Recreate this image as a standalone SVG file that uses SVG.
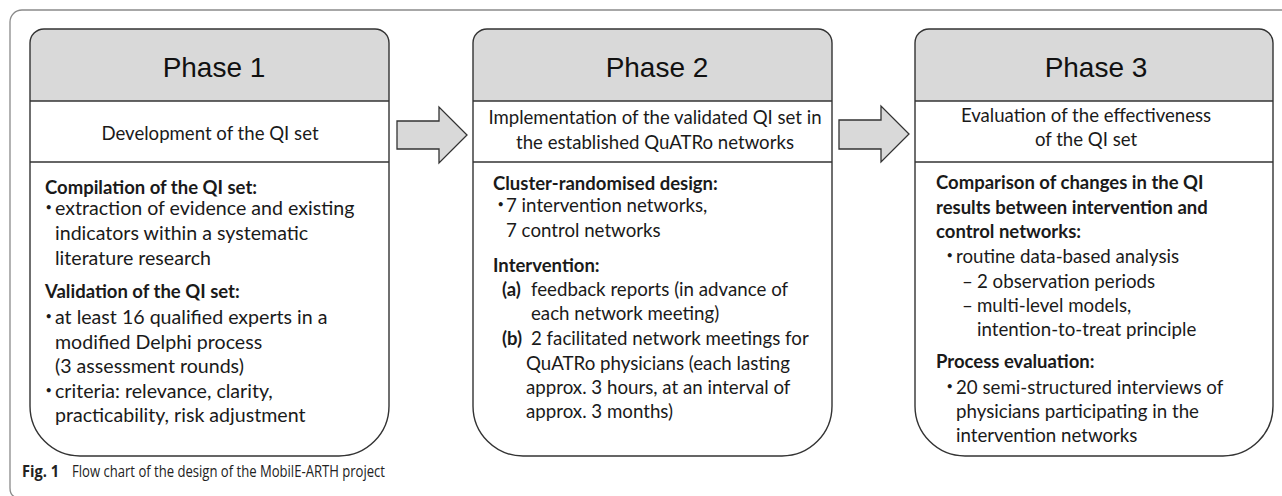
<svg xmlns="http://www.w3.org/2000/svg" width="1282" height="496" viewBox="0 0 1282 496">
<style>
.frame{fill:none;stroke:#8a8a8a;stroke-width:1.3}
.hdr{fill:#d9d9d9}
.box{fill:none;stroke:#333;stroke-width:1.4}
.sep{stroke:#333;stroke-width:1.3}
.arrow{fill:#d9d9d9;stroke:#333;stroke-width:1.3;stroke-linejoin:miter}
.ph{font-family:"Liberation Sans",Arial,sans-serif;font-size:28px;fill:#111;text-anchor:middle}
.t{font-family:Lato,"Open Sans",sans-serif;font-size:18.7px;fill:#1a1a1a}
.t1{font-size:19.6px}
.s{font-size:18.6px}
.c{text-anchor:middle}
.b{font-weight:bold;font-size:18.5px}
.bul{font-family:Lato,sans-serif;font-size:11px;fill:#1a1a1a}
.cap{font-family:"Open Sans","Noto Sans",sans-serif;font-size:16px;fill:#222}
</style>
<path class="frame" d="M1282 10 H22 A12 12 0 0 0 10 22 V488 Q10 495 15 497"/>

<g id="phase1">
<path class="hdr" d="M30 43 A14 14 0 0 1 44 29 H375 A14 14 0 0 1 389 43 V101 H30 Z"/>
<path class="box" d="M30 43 A14 14 0 0 1 44 29 H375 A14 14 0 0 1 389 43 V406 A50 50 0 0 1 339 456 H80 A50 50 0 0 1 30 406 Z"/>
<line class="sep" x1="30" y1="101" x2="389" y2="101"/>
<line class="sep" x1="30" y1="162" x2="389" y2="162"/>
<text class="ph" x="214" y="77">Phase 1</text>
<text class="t s c" x="210" y="140">Development of the QI set</text>
<text class="t b" x="45" y="194">Compilation of the QI set:</text>
<text class="bul" x="45.5" y="211">•</text>
<text class="t t1" x="55" y="215">extraction of evidence and existing</text>
<text class="t t1" x="55" y="240">indicators within a systematic</text>
<text class="t t1" x="55" y="265">literature research</text>
<text class="t b" x="45" y="298">Validation of the QI set:</text>
<text class="bul" x="45.5" y="320">•</text>
<text class="t t1" x="55" y="324">at least 16 qualified experts in a</text>
<text class="t t1" x="55" y="349">modified Delphi process</text>
<text class="t t1" x="55" y="373">(3 assessment rounds)</text>
<text class="bul" x="45.5" y="394">•</text>
<text class="t t1" x="55" y="398">criteria: relevance, clarity,</text>
<text class="t t1" x="55" y="422">practicability, risk adjustment</text>
</g>

<g id="phase2">
<path class="hdr" d="M473 43 A14 14 0 0 1 487 29 H818 A14 14 0 0 1 832 43 V101 H473 Z"/>
<path class="box" d="M473 43 A14 14 0 0 1 487 29 H818 A14 14 0 0 1 832 43 V406 A50 50 0 0 1 782 456 H523 A50 50 0 0 1 473 406 Z"/>
<line class="sep" x1="473" y1="101" x2="832" y2="101"/>
<line class="sep" x1="473" y1="162" x2="832" y2="162"/>
<text class="ph" x="657" y="77">Phase 2</text>
<text class="t s c" x="655" y="124">Implementation of the validated QI set in</text>
<text class="t s c" x="655" y="149">the established QuATRo networks</text>
<text class="t b" x="493" y="190">Cluster-randomised design:</text>
<text class="bul" x="497.5" y="208">•</text>
<text class="t" x="506" y="212">7 intervention networks,</text>
<text class="t" x="506" y="237">7 control networks</text>
<text class="t b" x="493" y="272">Intervention:</text>
<text class="t b" x="502" y="296">(a)</text>
<text class="t" x="531" y="296">feedback reports (in advance of</text>
<text class="t" x="531" y="320">each network meeting)</text>
<text class="t b" x="502" y="345">(b)</text>
<text class="t" x="531" y="345">2 facilitated network meetings for</text>
<text class="t" x="526" y="370">QuATRo physicians (each lasting</text>
<text class="t" x="526" y="394">approx. 3 hours, at an interval of</text>
<text class="t" x="526" y="418">approx. 3 months)</text>
</g>

<g id="phase3">
<path class="hdr" d="M915 43 A14 14 0 0 1 929 29 H1259 A14 14 0 0 1 1273 43 V101 H915 Z"/>
<path class="box" d="M915 43 A14 14 0 0 1 929 29 H1259 A14 14 0 0 1 1273 43 V406 A50 50 0 0 1 1223 456 H965 A50 50 0 0 1 915 406 Z"/>
<line class="sep" x1="915" y1="101" x2="1273" y2="101"/>
<line class="sep" x1="915" y1="162" x2="1273" y2="162"/>
<text class="ph" x="1096" y="77">Phase 3</text>
<text class="t s c" x="1086" y="122">Evaluation of the effectiveness</text>
<text class="t s c" x="1086" y="146">of the QI set</text>
<text class="t b" x="936" y="189">Comparison of changes in the QI</text>
<text class="t b" x="936" y="214">results between intervention and</text>
<text class="t b" x="936" y="238">control networks:</text>
<text class="bul" x="946.5" y="259">•</text>
<text class="t" x="956" y="263">routine data-based analysis</text>
<text class="t" x="962" y="288">–</text>
<text class="t" x="977" y="288">2 observation periods</text>
<text class="t" x="962" y="312">–</text>
<text class="t" x="977" y="312">multi-level models,</text>
<text class="t" x="977" y="336">intention-to-treat principle</text>
<text class="t b" x="936" y="368">Process evaluation:</text>
<text class="bul" x="946.5" y="390">•</text>
<text class="t" x="956" y="394">20 semi-structured interviews of</text>
<text class="t" x="956" y="418">physicians participating in the</text>
<text class="t" x="956" y="442">intervention networks</text>
</g>

<g id="connectors">
<path class="arrow" d="M397 121 H439 V107 L467 135 L439 163 V149 H397 Z"/>
<path class="arrow" d="M839 120 H881 V106 L909 134 L881 162 V149 H839 Z"/>
</g>

<text class="cap" x="22" y="477" font-weight="bold" textLength="37" lengthAdjust="spacingAndGlyphs">Fig. 1</text>
<text class="cap" x="72" y="477" textLength="313" lengthAdjust="spacingAndGlyphs">Flow chart of the design of the MobilE-ARTH project</text>
</svg>
